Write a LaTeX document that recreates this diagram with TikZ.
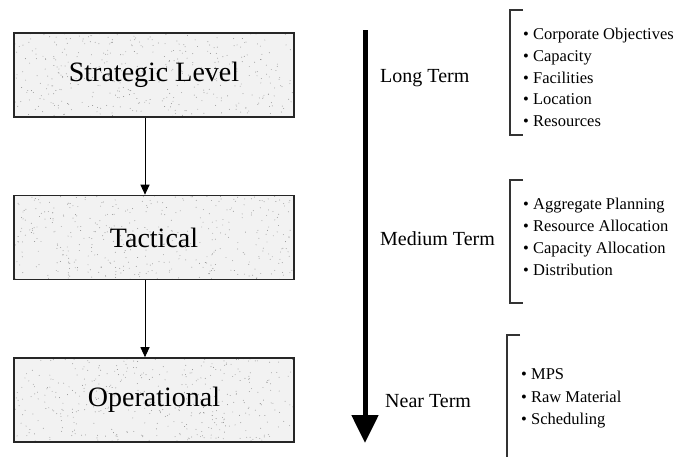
\documentclass[tikz,border=0pt]{standalone}
\usepackage{fontspec}
\setmainfont{Liberation Serif}
\usetikzlibrary{arrows.meta,backgrounds}

\begin{document}
\begin{tikzpicture}[x=1pt,y=-1pt,
  levelbox/.style={draw=black!85, line width=1.6pt, minimum width=280pt,
    minimum height=84pt, inner sep=0pt, font=\fontsize{28}{30}\selectfont},
  flow/.style={-{Triangle[width=9pt,length=10pt]}, line width=1pt},
  horizon/.style={line width=5pt, -{Triangle[width=26pt,length=28pt]}},
  termlabel/.style={anchor=base west, inner sep=0pt, font=\fontsize{20}{22}\selectfont},
  listitem/.style={anchor=base west, inner sep=0pt, font=\fontsize{16.5}{18}\selectfont},
  bracket/.style={line width=1.2pt, draw=black!80}]

\useasboundingbox (0,0) rectangle (682,456);

% planning levels
\node[levelbox] (strat) at (154,75)    {Strategic Level};
\node[levelbox] (tact)  at (154,237.5) {Tactical};
\node[levelbox] (oper)  at (154,400)   {Operational};

% speckled grey fill behind the level boxes
\pgfmathsetseed{7}
\begin{scope}[on background layer]
  \foreach \b/\t in {strat/33,tact/195.5,oper/358}{
    \fill[black!5] (\b.south west) rectangle (\b.north east);
    \foreach \i in {1,...,420}{
      \fill[black!45] ({15+278*rnd},{\t+84*rnd}) circle (0.45pt);
    }
  }
\end{scope}

% links between levels
\draw[flow] ([xshift=-9pt]strat.south) -- ([xshift=-9pt]tact.north);
\draw[flow] ([xshift=-9pt]tact.south) -- ([xshift=-9pt]oper.north);

% time horizon arrow
\coordinate (ttop) at (365,30);
\coordinate (tbot) at (365,443);
\draw[horizon] (ttop) -- (tbot);

\node[termlabel] (long) at (380,82)  {Long Term};
\node[termlabel] (med)  at (380,245) {Medium Term};
\node[termlabel] (near) at (385,407) {Near Term};

% brackets
\draw[bracket] (523,10) -- (510,10) -- (510,135) -- (523,135);
\draw[bracket] (523,180) -- (510,180) -- (510,303) -- (523,303);
\draw[bracket] (520,335) -- (507,335) -- (507,460);

% long term items
\node[listitem] (l1) at (523,39)  {\textbullet\ Corporate Objectives};
\node[listitem] (l2) at (523,61)  {\textbullet\ Capacity};
\node[listitem] (l3) at (523,83)  {\textbullet\ Facilities};
\node[listitem] (l4) at (523,104) {\textbullet\ Location};
\node[listitem] (l5) at (523,126) {\textbullet\ Resources};

% medium term items
\node[listitem] (m1) at (523,209) {\textbullet\ Aggregate Planning};
\node[listitem] (m2) at (523,231) {\textbullet\ Resource Allocation};
\node[listitem] (m3) at (523,253) {\textbullet\ Capacity Allocation};
\node[listitem] (m4) at (523,275) {\textbullet\ Distribution};

% near term items
\node[listitem] (n1) at (521,379) {\textbullet\ MPS};
\node[listitem] (n2) at (521,402) {\textbullet\ Raw Material};
\node[listitem] (n3) at (521,424) {\textbullet\ Scheduling};
\end{tikzpicture}
\end{document}
